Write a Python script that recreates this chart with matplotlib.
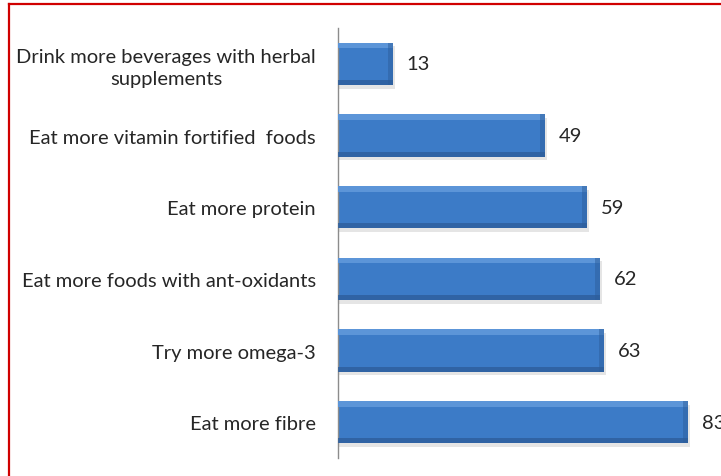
import matplotlib
matplotlib.use("Agg")
import matplotlib.pyplot as plt
from matplotlib.lines import Line2D

plt.rcParams['font.family'] = ['Lato', 'DejaVu Sans']

categories = [
    "Drink more beverages with herbal\nsupplements",
    "Eat more vitamin fortified  foods",
    "Eat more protein",
    "Eat more foods with ant-oxidants",
    "Try more omega-3",
    "Eat more fibre",
]
values = [13, 49, 59, 62, 63, 83]

text_color = '#262626'
bar_color = '#3C7BC7'
light_color = '#5C95D8'
dark_color = '#2D5E9C'

fig = plt.figure(figsize=(7.21, 4.77), dpi=100)
ax = fig.add_axes([0.4688, 0.0377, 0.5312, 0.9015])

pos = list(range(len(values)))
h = 0.59

# drop shadow
ax.barh([p + 0.05 for p in pos], [v + 0.5 for v in values], height=h,
        color='#000000', alpha=0.10, zorder=1)
# main bar
ax.barh(pos, values, height=h, color=bar_color, zorder=2)
# bevel: light top, dark bottom, dark right end
ax.barh([p - h / 2 + 0.04 for p in pos], values, height=0.08,
        color=light_color, zorder=3)
ax.barh([p + h / 2 - 0.035 for p in pos], values, height=0.07,
        color=dark_color, alpha=0.8, zorder=3)
ax.barh(pos, [1.1] * len(values), left=[v - 1.1 for v in values],
        height=h, color=dark_color, alpha=0.5, zorder=4)

for p, v in zip(pos, values):
    ax.annotate(str(v), xy=(v, p), xytext=(10, 0), textcoords='offset points',
                ha='left', va='center', fontsize=14.5, color=text_color)

ax.set_xlim(0, 90.8)
ax.set_ylim(len(values) - 0.5, -0.5)
ax.set_yticks(pos)
ax.set_yticklabels(categories, fontsize=14.5, color=text_color)
for lbl in ax.get_yticklabels():
    lbl.set_multialignment('center')
    lbl.set_linespacing(1.3)
ax.tick_params(axis='y', length=0, pad=16)
ax.set_xticks([])
for s in ['top', 'right', 'bottom']:
    ax.spines[s].set_visible(False)
ax.spines['left'].set_color('#8c8c8c')
ax.spines['left'].set_linewidth(1)

# red frame (top and left edges)
fig.add_artist(Line2D([0.0118, 1.0], [0.9885, 0.9885], color='#D00000',
                      linewidth=1.6, transform=fig.transFigure))
fig.add_artist(Line2D([0.0118, 0.0118], [0.0, 0.9885], color='#D00000',
                      linewidth=1.6, transform=fig.transFigure))

fig.savefig('out.png', dpi=100)
